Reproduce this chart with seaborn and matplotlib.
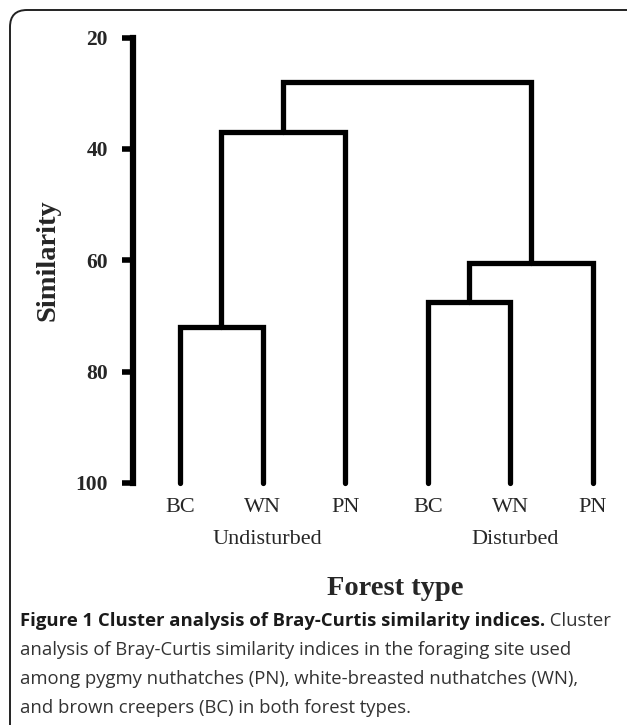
import pandas as pd
import seaborn as sns
import matplotlib.pyplot as plt
from matplotlib.patches import FancyBboxPatch

# data
leaves = ["BC", "WN", "PN", "BC", "WN", "PN"]
groups = ["Undisturbed", "Disturbed"]
group_mid_leaf = [1, 4]
# cluster merges, new node ids follow the 6 leaves
merge_left = [0, 6, 3, 8, 7]
merge_right = [1, 2, 4, 5, 9]
merge_sim = [72, 37, 67.5, 60.5, 28]
yticks = [20, 40, 60, 80, 100]

caption_bold = "Figure 1 Cluster analysis of Bray-Curtis similarity indices."
caption_lines = [
    " Cluster",
    "analysis of Bray-Curtis similarity indices in the foraging site used",
    "among pygmy nuthatches (PN), white-breasted nuthatches (WN),",
    "and brown creepers (BC) in both forest types.",
]

# build dendrogram link paths
node_x = {i: float(i) for i in range(len(leaves))}
node_y = {i: 100.0 for i in range(len(leaves))}
rows = []
for k, (a, b, h) in enumerate(zip(merge_left, merge_right, merge_sim)):
    pts = [(node_x[a], node_y[a]), (node_x[a], h), (node_x[b], h), (node_x[b], node_y[b])]
    for j, (px, py) in enumerate(pts):
        rows.append({"link": k, "step": j, "x": px, "y": py})
    nid = len(leaves) + k
    node_x[nid] = (node_x[a] + node_x[b]) / 2
    node_y[nid] = h
links = pd.DataFrame(rows)

sns.set_style("ticks")
serif = ["Liberation Serif", "DejaVu Serif"]
sans = ["Open Sans", "DejaVu Sans"]

fig = plt.figure(figsize=(6.27, 7.25), dpi=100)
ax = fig.add_axes([133 / 627, 1 - 483 / 725, 477 / 627, 445.5 / 725])

sns.lineplot(
    data=links, x="x", y="y", units="link", estimator=None, sort=False,
    color="black", linewidth=3.8, solid_joinstyle="miter",
    clip_on=False, legend=False, ax=ax
)

ax.set_xlim(-0.569, 5.206)
ax.set_ylim(100, 20)
ax.set_yticks(yticks)
ax.set_yticklabels([str(t) for t in yticks], fontfamily=serif,
                   fontweight="bold", fontsize=15.5)
ax.tick_params(axis="y", length=8, width=4, pad=10, color="black")
ax.set_xticks(range(len(leaves)))
ax.set_xticklabels(leaves, fontfamily=serif, fontsize=16)
ax.tick_params(axis="x", length=0, pad=11)

sns.despine(ax=ax, bottom=True)
ax.spines["left"].set_linewidth(4.5)
ax.spines["left"].set_color("black")
ax.spines["left"].set_capstyle("projecting")

for g, m in zip(groups, group_mid_leaf):
    ax.text(m + 0.06, -0.126, g, transform=ax.get_xaxis_transform(),
            ha="center", va="center", fontfamily=serif, fontsize=16)

ax.set_xlabel("Forest type", fontfamily=serif, fontweight="bold",
              fontsize=20.5, va="center")
ax.xaxis.set_label_coords(0.549, -0.236)
ax.set_ylabel("Similarity", fontfamily=serif, fontweight="bold",
              fontsize=20.5, va="center")
ax.yaxis.set_label_coords(-0.178, 0.5)

# caption
cap_size = 13.3
x0 = 20 / 627
base = [626, 655, 684, 713]
t = fig.text(x0, 1 - base[0] / 725, caption_bold, fontfamily=sans,
             fontweight="bold", fontsize=cap_size, color="#1a1a1a", va="baseline")
fig.canvas.draw()
bb = t.get_window_extent(renderer=fig.canvas.get_renderer())
fig.text(bb.x1 / fig.bbox.width, 1 - base[0] / 725, caption_lines[0],
         fontfamily=sans, fontsize=cap_size, color="#333333", va="baseline")
for line, b in zip(caption_lines[1:], base[1:]):
    fig.text(x0, 1 - b / 725, line, fontfamily=sans, fontsize=cap_size,
             color="#333333", va="baseline")

# rounded frame around the figure
frame = FancyBboxPatch((0.1, -0.3), 6.6, 7.45, boxstyle="round,pad=0,rounding_size=0.17",
                       transform=fig.dpi_scale_trans, fill=False,
                       edgecolor="#222222", linewidth=1.4)
fig.patches.append(frame)

fig.savefig("out.png", dpi=100)
